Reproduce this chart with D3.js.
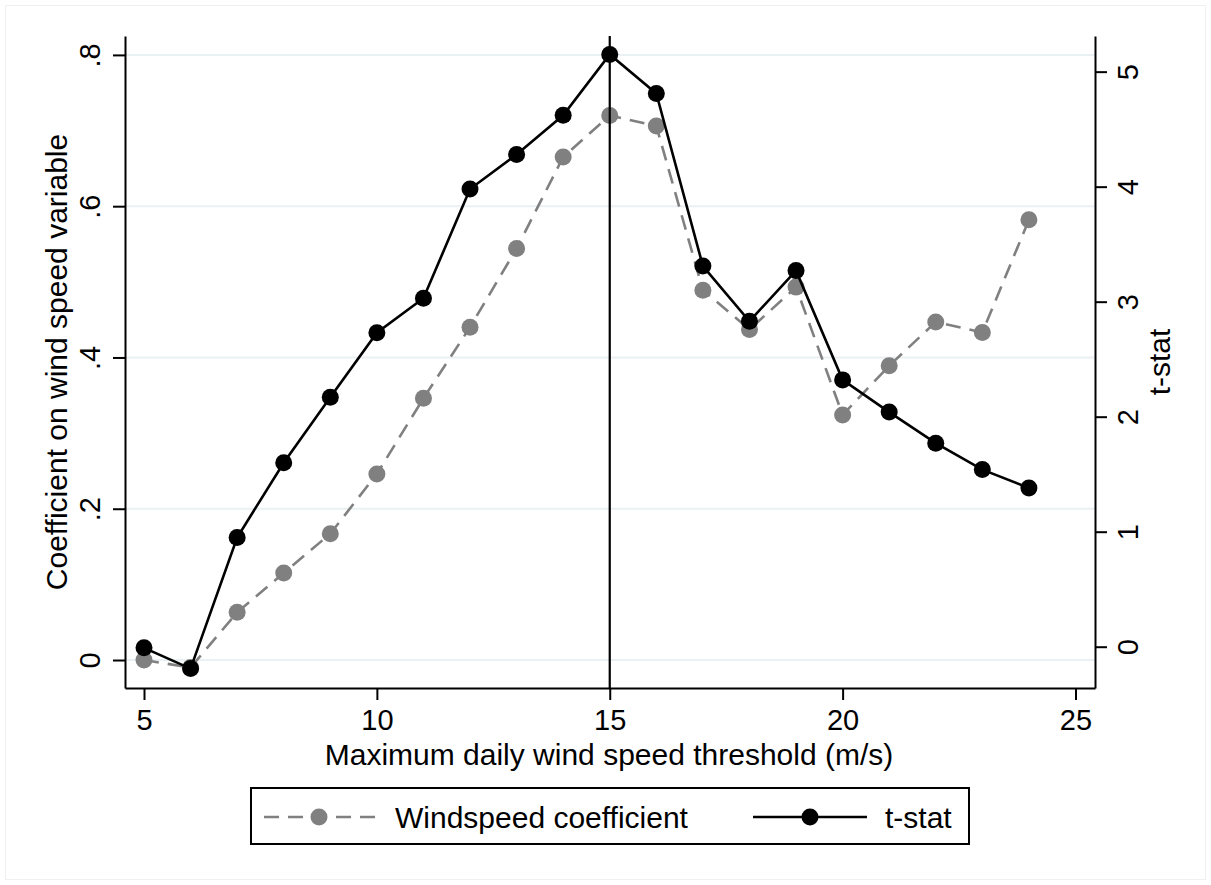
<!DOCTYPE html>
<html>
<head>
<meta charset="utf-8">
<script src="https://cdn.jsdelivr.net/npm/d3@7"></script>
<style>
  body { margin: 0; background: #fff; }
  text { font-family: "Liberation Sans", Arial, Helvetica, sans-serif; fill: #000; }
</style>
</head>
<body>
<div id="chart"></div>
<script>
// data
let thresholds = [5, 6, 7, 8, 9, 10, 11, 12, 13, 14, 15, 16, 17, 18, 19, 20, 21, 22, 23, 24];
let coefValues = [0.000, -0.010, 0.063, 0.115, 0.167, 0.246, 0.346, 0.440, 0.544, 0.665,
                  0.720, 0.706, 0.489, 0.437, 0.493, 0.324, 0.389, 0.447, 0.433, 0.582];
let tstatValues = [-0.01, -0.19, 0.95, 1.60, 2.17, 2.73, 3.03, 3.98, 4.28, 4.62,
                   5.15, 4.81, 3.31, 2.83, 3.27, 2.32, 2.04, 1.77, 1.54, 1.38];
let xTicks = [5, 10, 15, 20, 25];
let leftTicks = [0, 0.2, 0.4, 0.6, 0.8];
let rightTicks = [0, 1, 2, 3, 4, 5];
let markerLine = 15;
let seriesNames = ['Windspeed coefficient', 't-stat'];

let svgWidth = 1211;
let svgHeight = 885;

// plot region
let plot = { left: 125, right: 1095, top: 36, bottom: 688 };

let svg = d3.select('#chart').append('svg')
  .attr('width', svgWidth)
  .attr('height', svgHeight);

// faint outer frame
svg.append('rect')
  .attr('x', 5.5).attr('y', 5.5)
  .attr('width', svgWidth - 11).attr('height', svgHeight - 11)
  .attr('fill', 'none')
  .attr('stroke', '#f0f0f0')
  .attr('stroke-width', 1);

// scales
let xScale = d3.scaleLinear().domain([4.592, 25.419]).range([plot.left, plot.right]);
let yLeft = d3.scaleLinear().domain([-0.037, 0.825]).range([plot.bottom, plot.top]);
let yRight = d3.scaleLinear().domain([-0.359, 5.31]).range([plot.bottom, plot.top]);

// grid lines
svg.append('g').selectAll('line')
  .data(leftTicks)
  .enter()
  .append('line')
  .attr('x1', plot.left).attr('x2', plot.right)
  .attr('y1', d => yLeft(d)).attr('y2', d => yLeft(d))
  .attr('stroke', '#eaf1f3')
  .attr('stroke-width', 2);

let fmtLeft = d => d === 0 ? '0' : d3.format('.1f')(d).replace(/^0/, '');

// left axis
let leftAxis = svg.append('g')
  .attr('transform', `translate(${plot.left}, 0)`)
  .call(d3.axisLeft(yLeft).tickValues(leftTicks).tickFormat(fmtLeft).tickSize(12).tickSizeOuter(0));

leftAxis.selectAll('text')
  .attr('x', 0).attr('dy', null).attr('y', 0)
  .attr('text-anchor', 'middle')
  .attr('transform', 'translate(-25, 0) rotate(-90)');

// right axis
let rightAxis = svg.append('g')
  .attr('transform', `translate(${plot.right}, 0)`)
  .call(d3.axisRight(yRight).tickValues(rightTicks).tickFormat(d3.format('d')).tickSize(12).tickSizeOuter(0));

rightAxis.selectAll('text')
  .attr('x', 0).attr('dy', null).attr('y', 0)
  .attr('text-anchor', 'middle')
  .attr('transform', 'translate(43, 0) rotate(-90)');

// bottom axis
let bottomAxis = svg.append('g')
  .attr('transform', `translate(0, ${plot.bottom})`)
  .call(d3.axisBottom(xScale).tickValues(xTicks).tickFormat(d3.format('d')).tickSize(12).tickSizeOuter(0));

bottomAxis.selectAll('text')
  .attr('dy', null)
  .attr('y', 42);

[leftAxis, rightAxis, bottomAxis].forEach(ax => {
  ax.selectAll('text').attr('font-size', 29).attr('fill', '#000')
    .style('font-family', '"Liberation Sans", Arial, Helvetica, sans-serif');
  ax.selectAll('line').attr('stroke', '#000').attr('stroke-width', 2);
  ax.select('.domain').attr('stroke', '#000').attr('stroke-width', 2);
});

// axis titles
svg.append('text')
  .attr('transform', `translate(67, ${(plot.top + plot.bottom) / 2}) rotate(-90)`)
  .attr('text-anchor', 'middle')
  .attr('font-size', 30)
  .text('Coefficient on wind speed variable');

svg.append('text')
  .attr('transform', `translate(1170, ${(plot.top + plot.bottom) / 2}) rotate(-90)`)
  .attr('text-anchor', 'middle')
  .attr('font-size', 30)
  .text('t-stat');

svg.append('text')
  .attr('x', (plot.left + plot.right) / 2 - 1)
  .attr('y', 765)
  .attr('text-anchor', 'middle')
  .attr('font-size', 30)
  .text('Maximum daily wind speed threshold (m/s)');

// coefficient series (grey, dashed)
let coefData = thresholds.map((t, i) => ({ x: t, y: coefValues[i] }));
let tstatData = thresholds.map((t, i) => ({ x: t, y: tstatValues[i] }));

let coefLine = d3.line().x(d => xScale(d.x)).y(d => yLeft(d.y));
let tstatLine = d3.line().x(d => xScale(d.x)).y(d => yRight(d.y));

svg.append('path')
  .datum(coefData)
  .attr('d', coefLine)
  .attr('fill', 'none')
  .attr('stroke', '#808080')
  .attr('stroke-width', 2.6)
  .attr('stroke-dasharray', '15,9');

svg.append('g').selectAll('circle')
  .data(coefData)
  .enter()
  .append('circle')
  .attr('cx', d => xScale(d.x))
  .attr('cy', d => yLeft(d.y))
  .attr('r', 8.5)
  .attr('fill', '#808080');

// t-stat series (black, solid)
svg.append('path')
  .datum(tstatData)
  .attr('d', tstatLine)
  .attr('fill', 'none')
  .attr('stroke', '#000')
  .attr('stroke-width', 2.6);

svg.append('g').selectAll('circle')
  .data(tstatData)
  .enter()
  .append('circle')
  .attr('cx', d => xScale(d.x))
  .attr('cy', d => yRight(d.y))
  .attr('r', 8.5)
  .attr('fill', '#000');

// vertical reference line
svg.append('line')
  .attr('x1', xScale(markerLine)).attr('x2', xScale(markerLine))
  .attr('y1', plot.top).attr('y2', plot.bottom)
  .attr('stroke', '#000')
  .attr('stroke-width', 2.2);

// legend
let legend = svg.append('g');
legend.append('rect')
  .attr('x', 251).attr('y', 788)
  .attr('width', 718).attr('height', 56)
  .attr('fill', '#fff')
  .attr('stroke', '#000')
  .attr('stroke-width', 2);

legend.append('line')
  .attr('x1', 264).attr('x2', 377)
  .attr('y1', 817).attr('y2', 817)
  .attr('stroke', '#808080')
  .attr('stroke-width', 2.6)
  .attr('stroke-dasharray', '15,9');
legend.append('circle')
  .attr('cx', 319).attr('cy', 817).attr('r', 8.5)
  .attr('fill', '#808080');
legend.append('text')
  .attr('x', 395).attr('y', 828)
  .attr('font-size', 30)
  .text(seriesNames[0]);

legend.append('line')
  .attr('x1', 753).attr('x2', 867)
  .attr('y1', 817).attr('y2', 817)
  .attr('stroke', '#000')
  .attr('stroke-width', 2.6);
legend.append('circle')
  .attr('cx', 810).attr('cy', 817).attr('r', 8.5)
  .attr('fill', '#000');
legend.append('text')
  .attr('x', 885).attr('y', 828)
  .attr('font-size', 30)
  .text(seriesNames[1]);
</script>
</body>
</html>
